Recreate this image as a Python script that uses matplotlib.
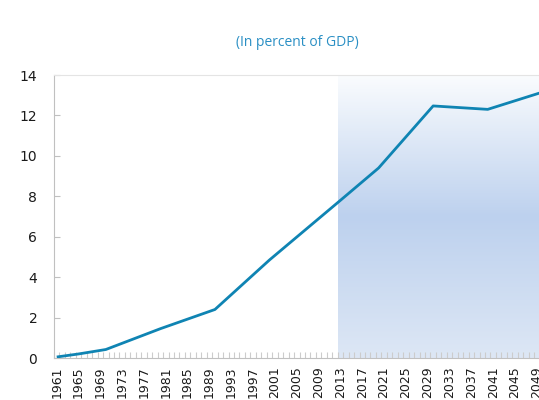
import numpy as np
import matplotlib
matplotlib.use("Agg")
import matplotlib.pyplot as plt
from matplotlib.colors import LinearSegmentedColormap
from matplotlib.ticker import MultipleLocator, FixedLocator

# data (percent of GDP)
years = [1961, 1965, 1970, 1980, 1990, 2000, 2013, 2020, 2030, 2040, 2050]
values = [0.05, 0.2, 0.42, 1.45, 2.4, 4.85, 7.8, 9.4, 12.47, 12.3, 13.15]
tick_years = list(range(1961, 2050, 4))
proj_start = 2013
first_year, last_year = 1961, 2050

line_col = "#0f84b3"
grid_col = "#c0c0c0"

fig = plt.figure(figsize=(5.39, 4.0), dpi=100)
# axes runs off the right edge like the cropped reference
ax = fig.add_axes([54 / 539, 42 / 400, 491 / 539, 283 / 400])

# projection shading, vertical gradient
shade = LinearSegmentedColormap.from_list(
    "shade", [(0.0, "#dde7f5"), (0.5, "#bdd1ee"), (1.0, "#fafcfe")])
grad = np.linspace(0, 1, 256).reshape(-1, 1)
ax.imshow(grad, cmap=shade, origin="lower", aspect="auto",
          extent=[proj_start - 0.5, last_year + 0.5, 0, 14], zorder=0)

ax.plot(years, values, color=line_col, lw=2.0, zorder=3,
        solid_capstyle="butt")

ax.set_xlim(first_year - 0.5, last_year + 0.5)
ax.set_ylim(0, 14)
ax.yaxis.set_major_locator(MultipleLocator(2))
ax.xaxis.set_major_locator(FixedLocator(tick_years))
ax.xaxis.set_minor_locator(FixedLocator(np.arange(first_year - 0.5, last_year + 1, 1)))
ax.set_xticklabels([str(y) for y in tick_years], rotation=90)

for s in ax.spines.values():
    s.set_color(grid_col)
    s.set_linewidth(0.8)
ax.spines["top"].set_color("#e4e4e4")

ax.tick_params(axis="y", direction="in", length=4, color=grid_col,
               labelsize=10, pad=12, labelcolor="#1a1a1a")
ax.tick_params(axis="x", which="major", length=0, labelsize=9,
               pad=6, labelcolor="#1a1a1a")
ax.tick_params(axis="x", which="minor", direction="in", length=4,
               color="#cccccc", width=0.8)

fig.text(297 / 539, 1 - 42 / 400, "(In percent of GDP)", ha="center",
         va="center", fontsize=10, color="#2a8fc4", family="Open Sans")

fig.savefig("out.png", dpi=100)
